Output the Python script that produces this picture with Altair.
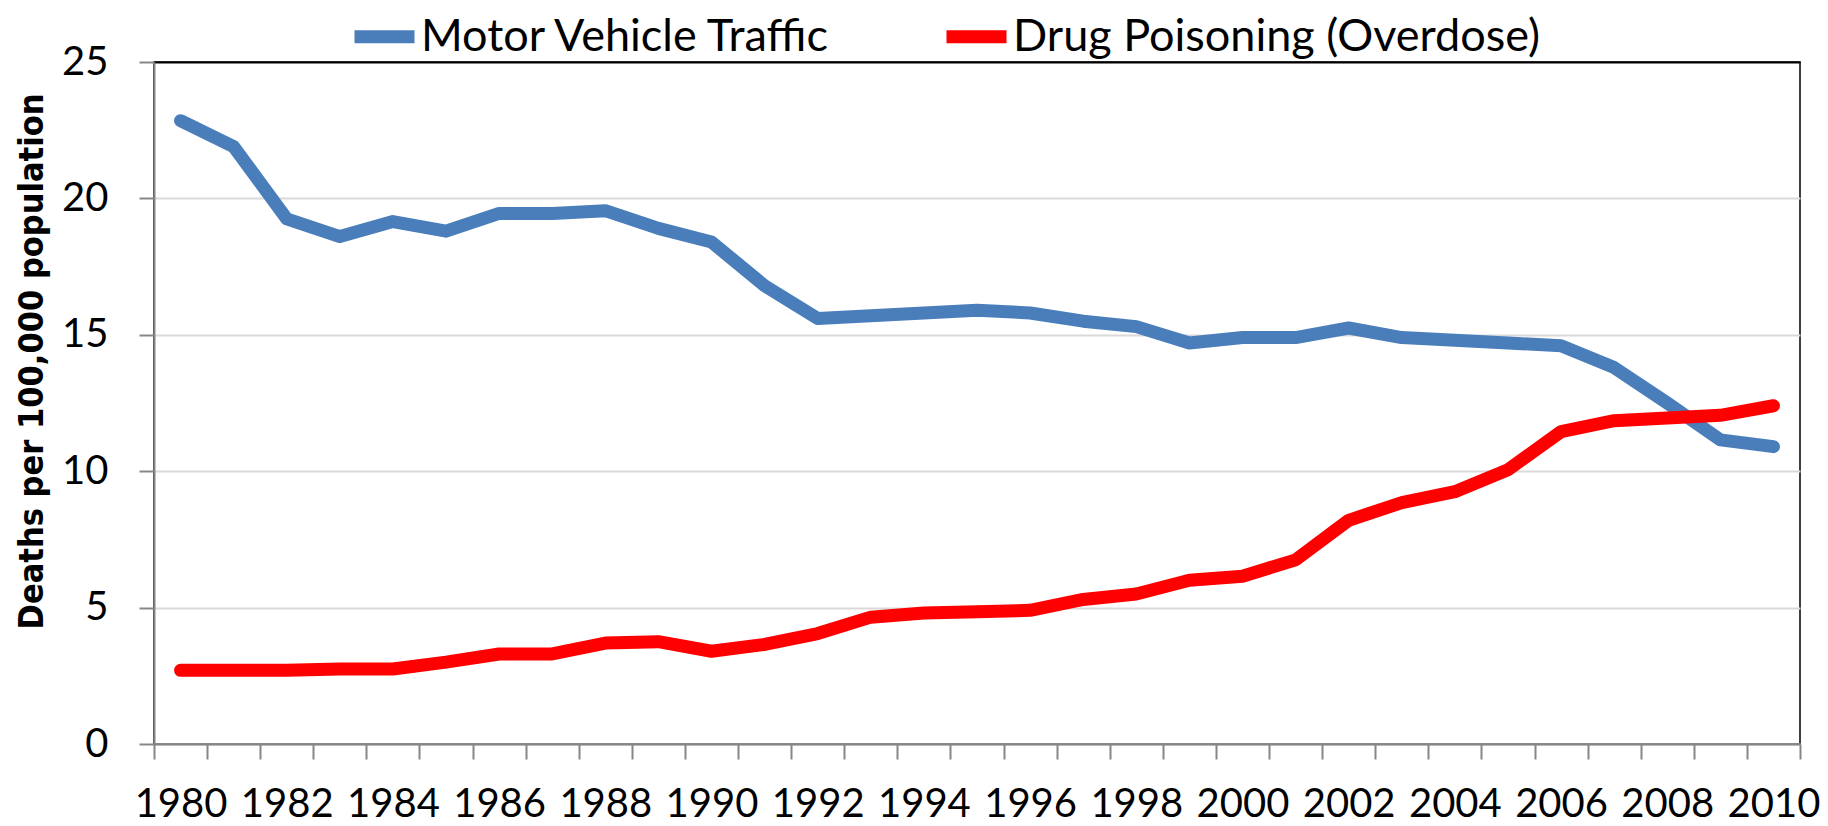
import altair as alt
import pandas as pd

years = [1980, 1981, 1982, 1983, 1984, 1985, 1986, 1987, 1988, 1989,
         1990, 1991, 1992, 1993, 1994, 1995, 1996, 1997, 1998, 1999,
         2000, 2001, 2002, 2003, 2004, 2005, 2006, 2007, 2008, 2009, 2010]
motor_vehicle = [22.85, 21.9, 19.25, 18.6, 19.15, 18.8, 19.45, 19.45, 19.55, 18.9,
                 18.4, 16.8, 15.6, 15.7, 15.8, 15.9, 15.8, 15.5, 15.3, 14.7,
                 14.9, 14.9, 15.25, 14.9, 14.8, 14.7, 14.6, 13.8, 12.5, 11.15, 10.9]
drug_poisoning = [2.7, 2.7, 2.7, 2.75, 2.75, 3.0, 3.3, 3.3, 3.7, 3.75,
                  3.4, 3.65, 4.05, 4.65, 4.8, 4.85, 4.9, 5.3, 5.5, 6.0,
                  6.15, 6.75, 8.2, 8.85, 9.25, 10.05, 11.45, 11.85, 11.95, 12.05, 12.4]
series_names = ["Motor Vehicle Traffic", "Drug Poisoning (Overdose)"]
series_colors = ["#4A7EBB", "#FF0000"]
y_ticks = [0, 5, 10, 15, 20, 25]
y_title = "Deaths per 100,000 population"

rows = []
for name, vals in zip(series_names, [motor_vehicle, drug_poisoning]):
    for yr, v in zip(years, vals):
        rows.append({"year": yr, "rate": v, "series": name})
df = pd.DataFrame(rows)

TICK_FONT = "Lato"
AXIS_GRAY = "#868686"

x_enc = alt.X(
    "year:O",
    bandPosition=0.5,
    scale=alt.Scale(type="band", paddingInner=0, paddingOuter=0),
    axis=alt.Axis(
        title=None, labelAngle=0, labelFont=TICK_FONT, labelFontSize=40,
        labelColor="black", labelPadding=25, tickSize=15, tickColor=AXIS_GRAY,
        tickWidth=2, domainColor=AXIS_GRAY, domainWidth=2, tickBand="extent",
        labelExpr="datum.value % 2 == 0 ? datum.label : ''", labelOverlap=False,
        grid=False,
    ),
)
y_enc = alt.Y(
    "rate:Q",
    scale=alt.Scale(domain=[0, 25], nice=False),
    axis=alt.Axis(
        values=y_ticks, title=y_title, titleFont="DejaVu Sans Condensed",
        titleFontSize=34, titleFontWeight="bold", titleColor="black",
        titleX=-112, titleY=299, titleBaseline="alphabetic", titleAngle=270,
        labelFont=TICK_FONT, labelFontSize=40, labelColor="black",
        labelPadding=31, tickSize=15, tickColor=AXIS_GRAY, tickWidth=2,
        domainColor=AXIS_GRAY, domainWidth=2,
        gridColor={"condition": {"test": "datum.value === 25", "value": "black"}, "value": "#D9D9D9"},
        gridWidth=2,
    ),
)
color_enc = alt.Color(
    "series:N",
    scale=alt.Scale(domain=series_names, range=series_colors),
    legend=alt.Legend(
        title=None, orient="none", legendX=194, legendY=-62, direction="horizontal",
        symbolType="stroke", symbolSize=3600, symbolStrokeWidth=13,
        labelFont=TICK_FONT, labelFontSize=45, labelColor="black",
        labelOffset=0, columnPadding=88, padding=0, labelLimit=0,
    ),
)

base = alt.Chart(df).encode(x=x_enc, y=y_enc, color=color_enc)
line_kw = dict(strokeWidth=13, strokeCap="round", strokeJoin="round")
l1 = base.transform_filter(alt.datum.series == series_names[0]).mark_line(**line_kw)
l2 = base.transform_filter(alt.datum.series == series_names[1]).mark_line(**line_kw)

chart = alt.layer(l1, l2).properties(
    width=1646, height=682,
    padding={"left": 146, "top": 54, "right": 20, "bottom": 82},
    autosize=alt.AutoSizeParams(type="none"),
).configure_view(stroke="black", strokeWidth=1.5)

chart.save("out.html", embed_options={"renderer": "svg", "actions": False})
